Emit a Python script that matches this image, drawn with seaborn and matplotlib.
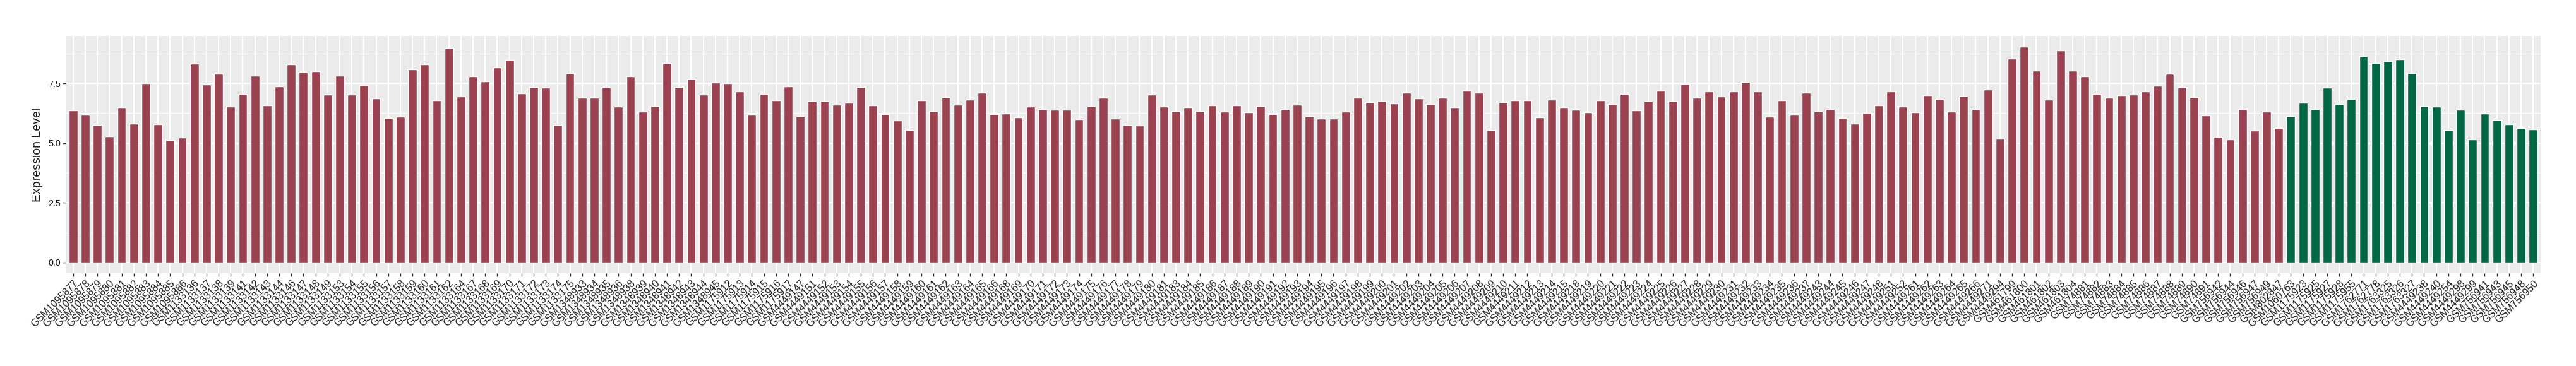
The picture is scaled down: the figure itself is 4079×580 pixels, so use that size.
import matplotlib
matplotlib.use("Agg")
import matplotlib.pyplot as plt
import seaborn as sns
import pandas as pd

# Samples of the first group (red bars)
red_samples = [
    "GSM1095877", "GSM1095878", "GSM1095879", "GSM1095880", "GSM1095881", "GSM1095882",
    "GSM1095883", "GSM1095884", "GSM1095885", "GSM1095886", "GSM1133136", "GSM1133137",
    "GSM1133138", "GSM1133139", "GSM1133141", "GSM1133142", "GSM1133143", "GSM1133144",
    "GSM1133146", "GSM1133147", "GSM1133148", "GSM1133149", "GSM1133153", "GSM1133154",
    "GSM1133155", "GSM1133156", "GSM1133157", "GSM1133158", "GSM1133159", "GSM1133160",
    "GSM1133161", "GSM1133162", "GSM1133164", "GSM1133167", "GSM1133168", "GSM1133169",
    "GSM1133170", "GSM1133171", "GSM1133172", "GSM1133173", "GSM1133174", "GSM1133175",
    "GSM1348933", "GSM1348934", "GSM1348935", "GSM1348936", "GSM1348938", "GSM1348939",
    "GSM1348940", "GSM1348941", "GSM1348942", "GSM1348943", "GSM1348944", "GSM1348945",
    "GSM1175912", "GSM1175913", "GSM1175914", "GSM1175915", "GSM1175916", "GSM1175917",
    "GSM4449147", "GSM4449151", "GSM4449152", "GSM4449153", "GSM4449154", "GSM4449155",
    "GSM4449156", "GSM4449157", "GSM4449158", "GSM4449159", "GSM4449160", "GSM4449161",
    "GSM4449162", "GSM4449163", "GSM4449164", "GSM4449165", "GSM4449166", "GSM4449168",
    "GSM4449169", "GSM4449170", "GSM4449171", "GSM4449172", "GSM4449173", "GSM4449174",
    "GSM4449175", "GSM4449176", "GSM4449177", "GSM4449178", "GSM4449179", "GSM4449180",
    "GSM4449181", "GSM4449183", "GSM4449184", "GSM4449185", "GSM4449186", "GSM4449187",
    "GSM4449188", "GSM4449189", "GSM4449190", "GSM4449191", "GSM4449192", "GSM4449193",
    "GSM4449194", "GSM4449195", "GSM4449196", "GSM4449197", "GSM4449198", "GSM4449199",
    "GSM4449200", "GSM4449201", "GSM4449202", "GSM4449203", "GSM4449204", "GSM4449205",
    "GSM4449206", "GSM4449207", "GSM4449208", "GSM4449209", "GSM4449210", "GSM4449211",
    "GSM4449212", "GSM4449213", "GSM4449214", "GSM4449215", "GSM4449218", "GSM4449219",
    "GSM4449220", "GSM4449221", "GSM4449222", "GSM4449223", "GSM4449224", "GSM4449225",
    "GSM4449226", "GSM4449227", "GSM4449228", "GSM4449229", "GSM4449230", "GSM4449231",
    "GSM4449232", "GSM4449233", "GSM4449234", "GSM4449235", "GSM4449236", "GSM4449237",
    "GSM4449243", "GSM4449244", "GSM4449245", "GSM4449246", "GSM4449247", "GSM4449248",
    "GSM4449251", "GSM4449252", "GSM4449261", "GSM4449262", "GSM4449263", "GSM4449264",
    "GSM4449265", "GSM4449266", "GSM4449271", "GSM4449294", "GSM461799", "GSM461800",
    "GSM461801", "GSM461802", "GSM461803", "GSM461804", "GSM74881", "GSM74882",
    "GSM74883", "GSM74884", "GSM74885", "GSM74886", "GSM74887", "GSM74888",
    "GSM74889", "GSM74890", "GSM74891", "GSM756942", "GSM756944", "GSM756946",
    "GSM756947", "GSM756949", "GSM802847",
]
red_values = [
    6.37, 6.18, 5.76, 5.28, 6.49, 5.81, 7.50, 5.78, 5.13, 5.23, 8.32, 7.45,
    7.90, 6.52, 7.05, 7.82, 6.58, 7.37, 8.29, 7.98, 8.01, 7.02, 7.82, 7.02,
    7.42, 6.87, 6.04, 6.10, 8.09, 8.29, 6.79, 8.98, 6.94, 7.79, 7.58, 8.16,
    8.48, 7.08, 7.34, 7.31, 5.76, 7.92, 6.89, 6.89, 7.34, 6.52, 7.79, 6.31,
    6.55, 8.35, 7.34, 7.69, 7.02, 7.53, 7.50, 7.16, 6.18, 7.05, 6.79, 7.37,
    6.13, 6.76, 6.76, 6.60, 6.68, 7.34, 6.58, 6.21, 5.95, 5.55, 6.79, 6.34,
    6.92, 6.60, 6.82, 7.11, 6.21, 6.23, 6.07, 6.52, 6.42, 6.40, 6.40, 6.00,
    6.55, 6.89, 6.03, 5.76, 5.73, 7.02, 6.52, 6.34, 6.49, 6.34, 6.58, 6.31,
    6.58, 6.29, 6.55, 6.21, 6.42, 6.60, 6.13, 6.03, 6.03, 6.31, 6.89, 6.71,
    6.76, 6.66, 7.11, 6.87, 6.63, 6.89, 6.49, 7.21, 7.11, 5.55, 6.71, 6.79,
    6.79, 6.07, 6.82, 6.49, 6.40, 6.29, 6.79, 6.63, 7.05, 6.37, 6.76, 7.21,
    6.76, 7.47, 6.89, 7.16, 6.94, 7.16, 7.56, 7.16, 6.10, 6.79, 6.18, 7.11,
    6.34, 6.42, 6.04, 5.81, 6.26, 6.58, 7.16, 6.52, 6.29, 7.00, 6.85, 6.31,
    6.97, 6.42, 7.24, 5.18, 8.54, 9.03, 8.03, 6.82, 8.88, 8.03, 7.79, 7.05,
    6.89, 7.00, 7.02, 7.16, 7.39, 7.90, 7.34, 6.92, 6.15, 5.25, 5.16, 6.42,
    5.52, 6.31, 5.63,
]

# Samples of the second group (green bars)
green_samples = [
    "GSM1060763", "GSM1175923", "GSM1175925", "GSM1175927", "GSM1175928", "GSM1175955",
    "GSM1762771", "GSM1762778", "GSM1763325", "GSM1763326", "GSM1763327", "GSM4449238",
    "GSM4449240", "GSM4449254", "GSM4449298", "GSM4449299", "GSM756941", "GSM756943",
    "GSM756945", "GSM756948", "GSM756950",
]
green_values = [
    6.13, 6.68, 6.42, 7.31, 6.63, 6.85, 8.63, 8.35, 8.43, 8.51, 7.92, 6.55,
    6.52, 5.55, 6.40, 5.16, 6.23, 5.97, 5.78, 5.63, 5.58,
]

group_colors = {"Normal": "#9B4251", "Tumor": "#006847"}

df = pd.DataFrame({
    "sample": red_samples + green_samples,
    "expression": red_values + green_values,
    "group": ["Normal"] * len(red_samples) + ["Tumor"] * len(green_samples),
})

sns.set_theme(style="darkgrid")
plt.rcParams['font.family'] = ['Liberation Sans', 'DejaVu Sans']

W, H = 4080, 580
fig = plt.figure(figsize=(W / 100, H / 100), dpi=100)
# panel box in pixels: left 104, right 4023, top 57, bottom 433
ax = fig.add_axes([104.3 / W, 1 - 433 / H, (4022.7 - 104.3) / W, (433 - 57) / H])
ax.set_facecolor("#EBEBEB")

sns.barplot(data=df, x="sample", y="expression", hue="group", palette=group_colors,
            dodge=False, width=0.72, saturation=1, legend=False, ax=ax, zorder=3)

n = len(df)
top = max(df["expression"])
ax.set_xlim(-0.6, n - 0.4)
ax.set_ylim(-0.05 * top, top * 1.05)

ax.set_yticks([0, 2.5, 5.0, 7.5])
ax.set_yticklabels(["0.0", "2.5", "5.0", "7.5"])
ax.set_yticks([1.25, 3.75, 6.25, 8.75], minor=True)

ax.grid(which="major", color="white", linewidth=1.5, zorder=0)
ax.grid(which="minor", axis="y", color="white", linewidth=0.7, zorder=0)
ax.set_axisbelow(True)
for s in ax.spines.values():
    s.set_visible(False)

ax.tick_params(axis="both", which="major", direction="out", length=3.5, width=1,
               color="#333333", labelcolor="#1A1A1A", pad=2.5, bottom=True, left=True)
ax.tick_params(axis="y", labelsize=10.4)
ax.tick_params(which="minor", length=0)
plt.setp(ax.get_xticklabels(), rotation=45, ha="right", va="top",
         rotation_mode="anchor", fontsize=11.4)

ax.set_xlabel("")
ax.set_ylabel("Expression Level", fontsize=14, color="#1A1A1A", labelpad=6)

fig.savefig("out.png", dpi=100)
